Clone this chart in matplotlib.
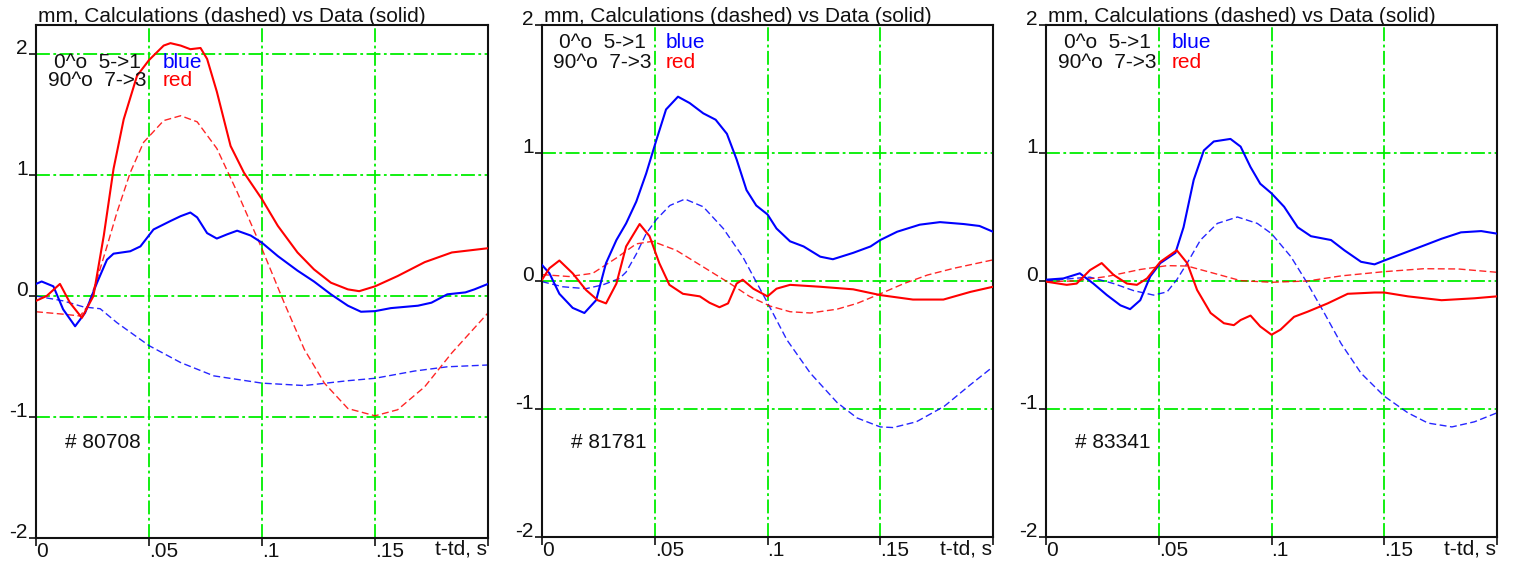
import matplotlib
matplotlib.use("Agg")
import matplotlib.pyplot as plt

plt.rcParams['font.family'] = ['Liberation Sans', 'DejaVu Sans']
plt.rcParams['lines.scale_dashes'] = False

# ---------------- shot 80708 ----------------
p1_red_data_t = [0, .0047, .0106, .015, .0203, .0254, .030, .0343, .0388, .0447, .050, .0565,
                 .0595, .064, .0683, .0728, .0757, .080, .0861, .092, .100, .107, .1157, .123,
                 .1305, .138, .143, .150, .160, .172, .184, .200]
p1_red_data = [-0.04, 0.0, 0.10, -0.055, -0.18, 0.0, 0.50, 1.05, 1.46, 1.82, 1.95, 2.07,
               2.09, 2.07, 2.04, 2.05, 1.96, 1.69, 1.24, 1.02, 0.80, 0.58, 0.36, 0.22,
               0.11, 0.055, 0.04, 0.08, 0.165, 0.28, 0.36, 0.395]
p1_blue_data_t = [0, .0025, .0077, .012, .0173, .0217, .027, .0314, .0343, .0417, .0462, .052,
                  .0595, .064, .0683, .0713, .0757, .080, .0846, .089, .095, .100, .107, .1157,
                  .123, .1305, .138, .1438, .150, .157, .169, .175, .182, .190, .194, .200]
p1_blue_data = [0.10, 0.12, 0.08, -0.11, -0.25, -0.14, 0.11, 0.30, 0.35, 0.37, 0.41, 0.55,
                0.62, 0.66, 0.69, 0.65, 0.52, 0.475, 0.51, 0.54, 0.50, 0.44, 0.33, 0.21,
                0.12, 0.014, -0.08, -0.13, -0.125, -0.10, -0.08, -0.055, 0.014, 0.03, 0.055, 0.10]
p1_red_calc_t = [0, .012, .0195, .023, .027, .0314, .0358, .0417, .0476, .0565, .064, .0713,
                 .080, .089, .100, .1098, .1187, .1276, .138, .150, .160, .172, .184, .200]
p1_red_calc = [-0.13, -0.15, -0.165, -0.08, 0.14, 0.41, 0.69, 1.02, 1.27, 1.45, 1.49, 1.44,
               1.22, 0.86, 0.39, -0.055, -0.44, -0.72, -0.93, -0.99, -0.94, -0.75, -0.47, -0.14]
p1_blue_calc_t = [0, .012, .021, .0284, .0358, .050, .064, .0787, .100, .1187, .138, .150,
                  .1675, .182, .200]
p1_blue_calc = [0.0, -0.04, -0.09, -0.105, -0.22, -0.41, -0.55, -0.66, -0.72, -0.74, -0.70,
                -0.68, -0.62, -0.585, -0.57]

# ---------------- shot 81781 ----------------
p2_blue_data_t = [0, .0033, .0077, .0136, .0188, .024, .0284, .033, .0373, .0418, .0462, .0507,
                  .055, .0603, .0655, .0715, .077, .082, .0863, .0907, .095, .100, .104, .110,
                  .116, .1234, .129, .138, .1457, .150, .1575, .1675, .1765, .187, .194, .200]
p2_blue_data = [0.125, 0.06, -0.10, -0.21, -0.25, -0.15, 0.14, 0.32, 0.45, 0.62, 0.84, 1.10,
                1.34, 1.44, 1.39, 1.31, 1.26, 1.15, 0.95, 0.71, 0.59, 0.52, 0.41, 0.31,
                0.27, 0.19, 0.17, 0.22, 0.27, 0.32, 0.385, 0.44, 0.46, 0.445, 0.43, 0.385]
p2_red_data_t = [0, .0033, .0077, .0136, .0195, .0247, .0284, .033, .0373, .0433, .0477, .052,
                 .0565, .0625, .070, .0743, .0787, .0825, .0863, .089, .0937, .100, .104, .110,
                 .1234, .138, .150, .1645, .178, .190, .200]
p2_red_data = [0.01, 0.10, 0.16, 0.06, -0.07, -0.15, -0.175, -0.02, 0.27, 0.445, 0.35, 0.14,
               -0.03, -0.10, -0.12, -0.17, -0.205, -0.175, -0.02, 0.01, -0.06, -0.12, -0.06, -0.03,
               -0.045, -0.065, -0.11, -0.145, -0.145, -0.085, -0.045]
p2_red_calc_t = [0, .012, .0225, .033, .0418, .049, .0595, .0715, .0834, .092, .101, .110,
                 .119, .1309, .1397, .150, .1605, .171, .1828, .200]
p2_red_calc = [0.05, 0.035, 0.06, 0.18, 0.29, 0.31, 0.24, 0.11, -0.02, -0.12, -0.195, -0.24,
               -0.25, -0.22, -0.175, -0.10, -0.02, 0.047, 0.10, 0.165]
p2_blue_calc_t = [0, .0092, .0195, .027, .0344, .0373, .0418, .0462, .0507, .0567, .0634, .0715,
                  .0804, .089, .100, .1086, .119, .1309, .1397, .150, .1557, .166, .1783, .190, .200]
p2_blue_calc = [-0.005, -0.045, -0.06, -0.03, 0.02, 0.07, 0.21, 0.37, 0.48, 0.59, 0.64, 0.58,
                0.41, 0.19, -0.17, -0.46, -0.72, -0.95, -1.07, -1.14, -1.145, -1.10, -0.98, -0.81, -0.67]

# ---------------- shot 83341 ----------------
p3_blue_data_t = [0, .0077, .015, .021, .027, .033, .0373, .0418, .0462, .0507, .0574, .061,
                  .0655, .070, .0744, .0818, .0863, .0907, .095, .100, .1056, .1116, .1175, .1264,
                  .1323, .1397, .1457, .150, .1605, .168, .1754, .184, .193, .200]
p3_blue_data = [0.01, 0.02, 0.06, -0.02, -0.11, -0.19, -0.22, -0.15, 0.035, 0.14, 0.22, 0.42,
                0.79, 1.02, 1.09, 1.11, 1.05, 0.89, 0.76, 0.685, 0.58, 0.42, 0.35, 0.32,
                0.24, 0.15, 0.13, 0.16, 0.23, 0.28, 0.33, 0.38, 0.39, 0.37]
p3_red_data_t = [0, .0092, .0136, .0195, .0247, .030, .0359, .0403, .0448, .0507, .058, .0626,
                 .067, .073, .0789, .0833, .0863, .0907, .095, .100, .104, .110, .116, .1249,
                 .1338, .1457, .150, .1605, .1754, .190, .200]
p3_red_data = [-0.005, -0.03, -0.02, 0.085, 0.14, 0.047, -0.02, -0.03, 0.02, 0.15, 0.24, 0.14,
               -0.07, -0.25, -0.33, -0.345, -0.305, -0.27, -0.355, -0.42, -0.38, -0.28, -0.24, -0.175,
               -0.10, -0.09, -0.09, -0.12, -0.15, -0.135, -0.12]
p3_red_calc_t = [0, .012, .027, .0418, .0537, .0626, .0745, .0863, .100, .116, .1309, .150,
                 .1675, .1828, .200]
p3_red_calc = [-0.005, 0.0, 0.035, 0.09, 0.12, 0.117, 0.06, 0.003, -0.01, 0.0, 0.04, 0.073,
               0.096, 0.094, 0.068]
p3_blue_calc_t = [0, .012, .0195, .030, .0388, .0477, .0537, .058, .0626, .0685, .076, .0849,
                  .0937, .100, .1086, .116, .1234, .1309, .1397, .150, .1605, .1694, .180, .190, .200]
p3_blue_calc = [0.0, 0.02, 0.03, -0.02, -0.075, -0.11, -0.085, 0.01, 0.14, 0.32, 0.45, 0.50,
                0.45, 0.37, 0.19, -0.02, -0.25, -0.49, -0.72, -0.90, -1.03, -1.11, -1.14, -1.10, -1.03]

shot_labels = ["# 80708", "# 81781", "# 83341"]
title_text = "mm, Calculations (dashed) vs Data (solid)"
legend_rows = ["0^o  5->1", "90^o  7->3"]
legend_colors = ["blue", "red"]
x_ticks = [0, .05, .1, .15, .2]
x_tick_labels = ["0", ".05", ".1", ".15", ""]
y_ticks = [-2, -1, 0, 1, 2]
y_tick_labels = ["-2", "-1", "0", "1", "2"]

W, H = 1513, 564
fig = plt.figure(figsize=(W / 100, H / 100), dpi=100)
FS = 15
GREEN = '#00ee00'


def fx(px):
    return px / W


def fy(py):
    return 1 - py / H


def make_panel(box, ymax, curves, shot, legend_y, legend_cx, color_x, shot_x):
    l, t, r, b = box
    ax = fig.add_axes([fx(l), fy(b), (r - l) / W, (b - t) / H])
    ax.set_xlim(0, 0.2)
    ax.set_ylim(-2, ymax)
    for yv in [-1, 0, 1, 2]:
        if yv < ymax - 1e-6:
            ax.axhline(yv, color=GREEN, lw=1.3, dashes=(10, 2.5, 2, 2.5), zorder=1)
    for xv in [.05, .1, .15]:
        ax.axvline(xv, color=GREEN, lw=1.3, dashes=(10, 2.5, 2, 2.5), zorder=1)
    for tt, yy, col, solid in curves:
        if solid:
            ax.plot(tt, yy, color=col, lw=1.5, zorder=3)
        else:
            ax.plot(tt, yy, color=col, lw=1.0, dashes=(5, 2.5), alpha=0.85, zorder=2)
    ax.set_xticks(x_ticks)
    ax.set_xticklabels(x_tick_labels)
    ax.set_yticks(y_ticks)
    ax.set_yticklabels(y_tick_labels)
    ax.tick_params(axis='x', direction='out', length=6, width=1.2, pad=-3,
                   labelsize=FS, colors='#111111')
    ax.tick_params(axis='y', direction='out', length=5, width=1.2, pad=1,
                   labelsize=FS, colors='#111111')
    for lab in ax.get_xticklabels():
        lab.set_ha('left')
    for lab in ax.get_yticklabels():
        lab.set_va('baseline')
    for sp in ax.spines.values():
        sp.set_linewidth(1.5)
        sp.set_color('#111111')
    # header and annotations
    fig.text(fx(l + 2), fy(22), title_text, fontsize=FS, va='baseline', ha='left',
             color='#111111')
    for row, col, yy in zip(legend_rows, legend_colors, legend_y):
        fig.text(fx(legend_cx), fy(yy), row, fontsize=FS, va='center', ha='center',
                 color='#111111')
        fig.text(fx(color_x), fy(yy), col, fontsize=FS, va='center', ha='left', color=col)
    fig.text(fx(shot_x), fy(443), shot, fontsize=FS, va='center', ha='left', color='#111111')
    fig.text(fx(r - 1), fy(549), "t-td, s", fontsize=FS, va='center', ha='right',
             color='#111111')
    return ax


make_panel((36, 25, 488, 538), 2.24,
           [(p1_blue_calc_t, p1_blue_calc, 'blue', False),
            (p1_red_calc_t, p1_red_calc, 'red', False),
            (p1_blue_data_t, p1_blue_data, 'blue', True),
            (p1_red_data_t, p1_red_data, 'red', True)],
           shot_labels[0], (62, 80), 97, 163, 65)

make_panel((542, 25, 993, 537), 2.0,
           [(p2_blue_calc_t, p2_blue_calc, 'blue', False),
            (p2_red_calc_t, p2_red_calc, 'red', False),
            (p2_blue_data_t, p2_blue_data, 'blue', True),
            (p2_red_data_t, p2_red_data, 'red', True)],
           shot_labels[1], (43, 62), 602, 666, 571)

make_panel((1046, 25, 1497, 537), 2.0,
           [(p3_blue_calc_t, p3_blue_calc, 'blue', False),
            (p3_red_calc_t, p3_red_calc, 'red', False),
            (p3_blue_data_t, p3_blue_data, 'blue', True),
            (p3_red_data_t, p3_red_data, 'red', True)],
           shot_labels[2], (43, 62), 1107, 1172, 1075)

fig.savefig("out.png", dpi=100)
